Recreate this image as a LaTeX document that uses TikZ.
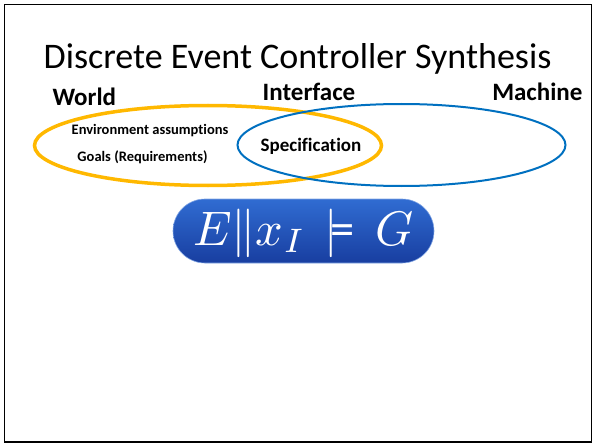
\documentclass[tikz,border=0pt]{standalone}
\usepackage{amsmath}
\usepackage{fontspec}
\setmainfont{Carlito}[Ligatures=NoCommon]
\usetikzlibrary{shadings}
\definecolor{goldline}{RGB}{255,184,0}
\definecolor{blueline}{RGB}{0,112,192}
\definecolor{pilltop}{RGB}{48,108,210}
\definecolor{pillbot}{RGB}{24,62,160}
\tikzset{
  heading/.style={font=\fontsize{25}{28}\selectfont\bfseries, anchor=base},
  smalllabel/.style={font=\fontsize{14.5}{16}\selectfont\bfseries, anchor=base},
}
\begin{document}
\begin{tikzpicture}[x=1pt,y=-1pt]
  \useasboundingbox (0,0) rectangle (595,444);
  % slide frame
  \draw[line width=1.6pt] (4.5,4.5) rectangle (591.5,442);

  % title
  \node[font=\fontsize{36}{40}\selectfont, anchor=base] (title) at (297.5,69) {Discrete Event Controller Synthesis};

  % region headings
  \node[heading, anchor=base west] (world) at (49,106) {World};
  \node[heading] (iface) at (309,101) {Interface};
  \node[heading, anchor=base east] (machine) at (586,101) {Machine};

  % domain ellipses
  \draw[goldline, line width=3.5pt] (208,145.5) ellipse [x radius=173.5, y radius=40];
  \draw[blueline, line width=2pt] (401.5,145) ellipse [x radius=164, y radius=41];

  % contents
  \node[smalllabel] (env) at (150,135) {Environment assumptions};
  \node[smalllabel] (goals) at (142.5,161) {Goals (Requirements)};
  \node[font=\fontsize{19}{22}\selectfont\bfseries, anchor=base] (spec) at (311,151) {Specification};

  % synthesis formula
  \shade[top color=pilltop, bottom color=pillbot, rounded corners=32pt]
    (173,199) rectangle (434,263);
  \draw[pilltop!60!white, line width=0.6pt, rounded corners=32pt]
    (173,199) rectangle (434,263);
  \node[text=white, anchor=base, inner sep=0pt] (formula) at (303.5,245)
    {\scalebox{4.85}{$E\|x_I\mkern2mu\models\mkern3mu G$}};
\end{tikzpicture}
\end{document}
